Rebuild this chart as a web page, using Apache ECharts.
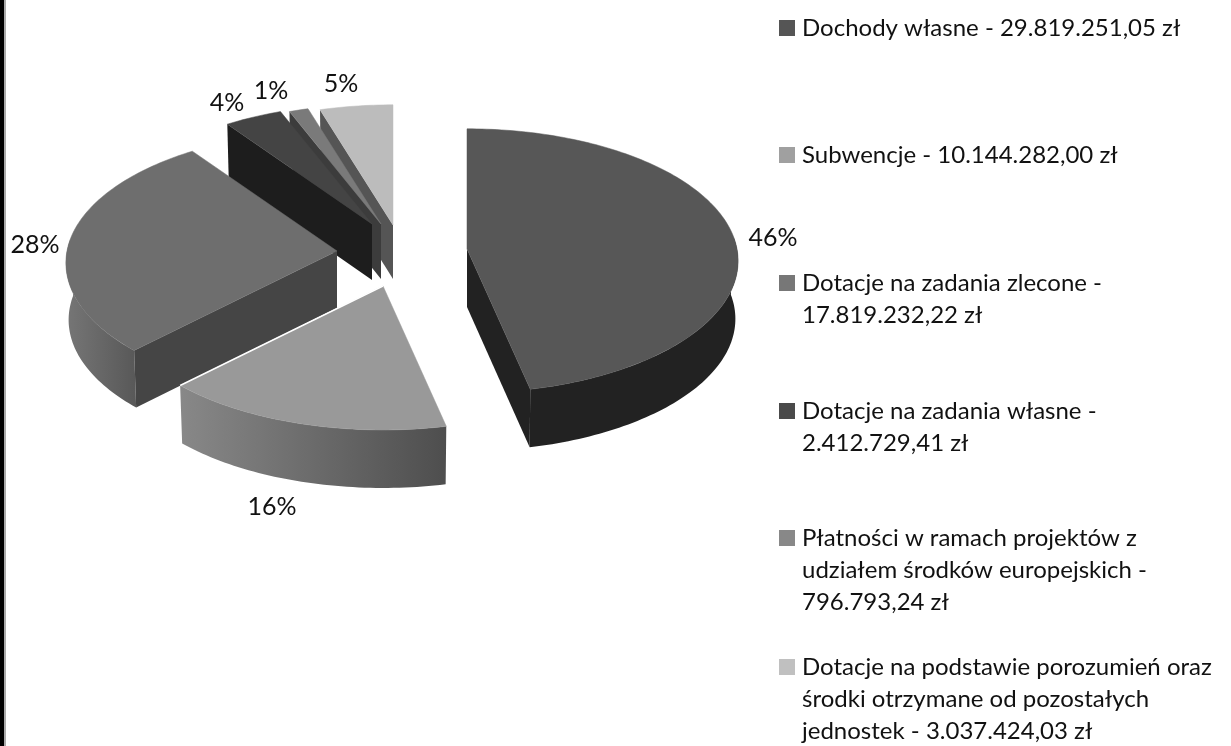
<!DOCTYPE html>
<html>
<head>
<meta charset="utf-8">
<script src="https://cdn.jsdelivr.net/npm/echarts@6/dist/echarts.min.js"></script>
<style>
    html, body { margin: 0; padding: 0; background: #fff; }
    #main { width: 1231px; height: 746px; }
</style>
</head>
<body>
<div id="main"></div>
<script>
const categories = [
    'Dochody własne - 29.819.251,05 zł',
    'Subwencje - 10.144.282,00 zł',
    'Dotacje na zadania zlecone - 17.819.232,22 zł',
    'Dotacje na zadania własne - 2.412.729,41 zł',
    'Płatności w ramach projektów z udziałem środków europejskich - 796.793,24 zł',
    'Dotacje na podstawie porozumień oraz środki otrzymane od pozostałych jednostek - 3.037.424,03 zł'
]
const values = [29819251.05, 10144282.00, 17819232.22, 2412729.41, 796793.24, 3037424.03]
const percentLabels = ['46%', '16%', '28%', '4%', '1%', '5%']
const legendLines = [
    ['Dochody własne - 29.819.251,05 zł'],
    ['Subwencje - 10.144.282,00 zł'],
    ['Dotacje na zadania zlecone -', '17.819.232,22 zł'],
    ['Dotacje na zadania własne -', '2.412.729,41 zł'],
    ['Płatności w ramach projektów z', 'udziałem środków europejskich -', '796.793,24 zł'],
    ['Dotacje na podstawie porozumień oraz', 'środki otrzymane od pozostałych', 'jednostek - 3.037.424,03 zł']
]

// wygląd kawałków: środek po rozsunięciu, kolory, etykieta
const apex = [[467, 249], [383, 286], [337, 251], [372, 224], [381, 224], [393, 225]]
const depths = [58, 58, 57, 56, 55, 54]
const labelPos = [[773, 238], [272, 507], [35, 245], [227, 103], [271, 91], [341, 84]]
const topColors = ['#575757', '#999999', '#6e6e6e', '#444444', '#7a7a7a', '#bcbcbc']
const faceColors = ['#222222', '#4f4f4f', '#454545', '#1d1d1d', '#3c3c3c', '#555555']
const wallColors = [['#222222', '#222222'], ['#888888', '#4e4e4e'], ['#767676', '#585858'], ['#1d1d1d', '#1d1d1d'], ['#3c3c3c', '#3c3c3c'], ['#555555', '#555555']]
const legendColors = ['#555555', '#a0a0a0', '#777777', '#4a4a4a', '#888888', '#c0c0c0']
const legendY = [28, 155, 283, 411, 538, 667]
const drawOrder = [5, 4, 3, 2, 1, 0]

const fontName = 'Lato'
const legendFont = 24
const lineH = 32.3
const labelFont = 25
const Rx = 270
const Ry = 131
const persp = 0.09

const total = values.reduce((a, b) => a + b, 0)
const starts = []
values.reduce((acc, v, i) => {
    starts[i] = acc
    return acc + v / total * Math.PI * 2
}, 0)

// kąt liczony od góry zgodnie ze wskazówkami, rzut z lekką perspektywą
function project(c, theta, scale, dy) {
    const v = Math.cos(theta)
    const f = 1 / (1 + persp * v)
    return [c[0] + Rx * scale * Math.sin(theta) * f, c[1] + dy - Ry * v * f]
}

function arcPoints(c, a0, a1, scale, dy) {
    const n = Math.max(2, Math.ceil((a1 - a0) / 0.02))
    const pts = []
    for (let k = 0; k <= n; k++) {
        pts.push(project(c, a0 + (a1 - a0) * k / n, scale, dy))
    }
    return pts
}

function renderSlice(i) {
    return function (params, api) {
        const share = api.value(0) / total
        const a0 = starts[i]
        const a1 = a0 + share * Math.PI * 2
        const c = apex[i]
        const depth = depths[i]
        const children = []

        // zewnętrzna ściana, tylko przednia część koła
        const w0 = Math.max(a0, Math.PI * 0.47)
        const w1 = Math.min(a1, Math.PI * 1.53)
        if (w1 > w0) {
            const pts = arcPoints(c, w0, w1, 1, 0).concat(arcPoints(c, w0, w1, 0.99, depth).reverse())
            children.push({
                type: 'polygon',
                shape: { points: pts },
                style: {
                    fill: new echarts.graphic.LinearGradient(0, 0, 1, 0, [
                        { offset: 0, color: wallColors[i][0] },
                        { offset: 1, color: wallColors[i][1] }
                    ])
                }
            })
        }

        // ściana przy cięciu
        const cut = Math.sin(a1) > 0.01 ? a1 : (Math.sin(a0) < -0.01 ? a0 : null)
        if (cut !== null && i !== 1) {
            const outer = project(c, cut, 1, 0)
            const outerLow = project(c, cut, 0.99, depth)
            children.push({
                type: 'polygon',
                shape: { points: [c, outer, outerLow, [c[0], c[1] + depth]] },
                style: { fill: faceColors[i] }
            })
        }

        // góra kawałka
        children.push({
            type: 'polygon',
            shape: { points: [c].concat(arcPoints(c, a0, a1, 1, 0)) },
            style: { fill: topColors[i], stroke: topColors[i], lineWidth: 0.5 }
        })

        // jasna krawędź Subwencji na tle sąsiedniego kawałka
        if (i === 1) {
            children.push({
                type: 'line',
                shape: {
                    x1: c[0],
                    y1: c[1],
                    x2: project(c, a1, 1, 0)[0],
                    y2: project(c, a1, 1, 0)[1]
                },
                style: { stroke: '#ffffff', lineWidth: 1.5 }
            })
        }

        children.push({
            type: 'text',
            x: labelPos[i][0],
            y: labelPos[i][1],
            style: {
                text: percentLabels[i],
                fontFamily: fontName,
                fontSize: labelFont,
                fill: '#111111',
                align: 'center',
                verticalAlign: 'middle'
            }
        })

        return { type: 'group', children: children }
    }
}

const series = drawOrder.map(function (i) {
    return {
        type: 'custom',
        name: categories[i],
        coordinateSystem: 'none',
        silent: true,
        animation: false,
        itemStyle: { color: legendColors[i] },
        data: [[values[i]]],
        renderItem: renderSlice(i)
    }
})

const legends = categories.map(function (name, i) {
    const lines = legendLines[i]
    const pad = lines.length - 1
    return {
        left: 779,
        top: legendY[i] - lineH * pad - lineH / 2,
        padding: 0,
        orient: 'vertical',
        icon: 'rect',
        itemWidth: 16,
        itemHeight: 16,
        selectedMode: false,
        data: [name],
        // puste linie u góry, żeby znacznik stał przy pierwszym wierszu
        formatter: function () {
            return '\n'.repeat(pad) + lines.join('\n')
        },
        textStyle: {
            fontFamily: fontName,
            fontSize: legendFont,
            lineHeight: lineH,
            color: '#111111',
            padding: [0, 0, 0, 2]
        }
    }
})

const myChart = echarts.init(document.getElementById('main'))

myChart.setOption({
    backgroundColor: '#ffffff',
    animation: false,
    legend: legends,
    graphic: [
        { type: 'rect', shape: { x: 0, y: 0, width: 4, height: 746 }, style: { fill: '#000000' } },
        { type: 'rect', shape: { x: 4, y: 0, width: 2, height: 746 }, style: { fill: '#aaaaaa' } }
    ],
    series: series
})
</script>
</body>
</html>
